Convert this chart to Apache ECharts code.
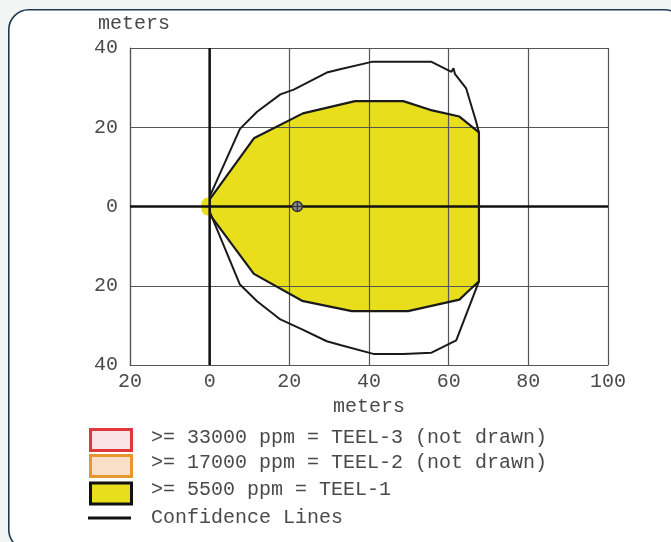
<!DOCTYPE html>
<html>
<head>
<meta charset="utf-8">
<script src="https://cdn.jsdelivr.net/npm/echarts@6/dist/echarts.min.js"></script>
<style>
  html, body { margin: 0; padding: 0; background: #f3f4f4; }
  #chart { width: 671px; height: 542px; }
</style>
</head>
<body>
<div id="chart"></div>
<script>
// Axis ranges and ticks (meters)
const xTicks = [-20, 0, 20, 40, 60, 80, 100];
const yTicks = [-40, -20, 0, 20, 40];

// TEEL-1 footprint outline (downwind x, crosswind y)
const teelUpperX = [0, 11.1, 23.4, 36.5, 48.6, 55.3, 62.7, 67.6];
const teelUpperY = [1.8, 17.2, 23.5, 26.6, 26.6, 24.4, 22.7, 18.7];
const teelLowerX = [0, 11.1, 23.2, 35.7, 49.8, 62.7, 65.3, 67.6];
const teelLowerY = [-2.0, -17.0, -23.8, -26.4, -26.4, -23.5, -21.0, -18.9];

// Small upwind lobe of the footprint around the source
const lobeX = [-0.6, -1.4, -2.0, -2.2, -2.0, -1.4, -0.6];
const lobeY = [2.3, 2.0, 1.2, 0, -1.2, -2.0, -2.3];

// Confidence lines
const confUpperX = [0, 7.6, 11.9, 17.75, 21.1, 29.4, 33.0, 40.7, 55.7, 60.7, 61.2, 61.6, 64.4, 66.9, 67.6];
const confUpperY = [2.5, 19.6, 23.9, 28.3, 29.5, 33.8, 34.7, 36.5, 36.5, 34.0, 34.9, 33.4, 29.8, 21.4, 18.7];
const confLowerX = [0, 7.6, 11.9, 17.75, 23.2, 29.4, 33.0, 41.1, 48.6, 55.7, 61.9, 67.6];
const confLowerY = [-1.3, -19.7, -23.9, -28.5, -31.0, -34.0, -35.0, -37.2, -37.2, -36.9, -33.8, -18.9];

// Release point
const sourcePoint = [22, 0];

// Legend entries
const legendLabels = [
  '>= 33000 ppm = TEEL-3 (not drawn)',
  '>= 17000 ppm = TEEL-2 (not drawn)',
  '>= 5500 ppm = TEEL-1',
  'Confidence Lines'
];

const zip = (xs, ys) => xs.map((x, i) => [x, ys[i]]);
const upper = zip(teelUpperX, teelUpperY);
const lower = zip(teelLowerX, teelLowerY);
const lobe = zip(lobeX, lobeY);
const outline = upper.concat(lower.slice().reverse());
// closed fill: lobe (top to bottom), lower edge out, upper edge back
const fillPoly = lobe.concat(lower, upper.slice().reverse());

const FONT = '"Liberation Mono", "DejaVu Sans Mono", monospace';
const TEXT = '#4a4a4a';
const GRIDC = '#555555';
const YELLOW = '#e8de1c';

const chart = echarts.init(document.getElementById('chart'));

const legendGraphics = [];
const rowY = [428, 454, 481.5, 518];
const boxes = [
  { stroke: '#e0383a', fill: '#f9e3e3' },
  { stroke: '#e8962e', fill: '#f8dfc6' },
  { stroke: '#111111', fill: YELLOW }
];
boxes.forEach((b, i) => {
  legendGraphics.push({
    type: 'rect', left: 89, top: rowY[i],
    shape: { width: 41, height: 21 },
    style: { fill: b.fill, stroke: b.stroke, lineWidth: 3 }
  });
});
legendGraphics.push({
  type: 'rect', left: 88, top: 516.5,
  shape: { width: 43, height: 3 },
  style: { fill: '#111' }
});
const textY = [439, 464, 491, 519];
legendLabels.forEach((t, i) => {
  legendGraphics.push({
    type: 'text', left: 151, top: textY[i] - 11,
    style: { text: t, font: '20px ' + FONT, fill: TEXT }
  });
});

chart.setOption({
  backgroundColor: '#f3f4f4',
  animation: false,
  graphic: [
    {
      type: 'rect', left: 8, top: 9, z: -10,
      shape: { width: 676, height: 540, r: 20 },
      style: { fill: '#ffffff', stroke: '#1e3b52', lineWidth: 1.6 }
    }
  ].concat(legendGraphics),
  grid: { left: 130, top: 48, width: 478, height: 317 },
  xAxis: {
    type: 'value', min: xTicks[0], max: xTicks[xTicks.length - 1], interval: 20,
    z: 3,
    name: 'meters', nameLocation: 'middle', nameGap: 22,
    nameTextStyle: { fontFamily: FONT, fontSize: 20, color: TEXT },
    axisLine: { onZero: false, lineStyle: { color: GRIDC, width: 1.2 } },
    axisTick: { show: false },
    axisLabel: { margin: 7, fontFamily: FONT, fontSize: 20, color: TEXT, formatter: v => String(Math.abs(v)) },
    splitLine: { show: true, lineStyle: { color: GRIDC, width: 1.2 } }
  },
  yAxis: {
    type: 'value', min: yTicks[0], max: yTicks[yTicks.length - 1], interval: 20,
    z: 3,
    name: 'meters', nameLocation: 'end', nameGap: 14,
    nameTextStyle: { fontFamily: FONT, fontSize: 20, color: TEXT, align: 'center', padding: [0, 0, 0, 8] },
    axisLine: { show: true, onZero: false, lineStyle: { color: GRIDC, width: 1.2 } },
    axisTick: { show: false },
    axisLabel: { margin: 12, fontFamily: FONT, fontSize: 20, color: TEXT, formatter: v => String(Math.abs(v)) },
    splitLine: { show: true, lineStyle: { color: GRIDC, width: 1.2 } }
  },
  series: [
    {
      type: 'custom', z: 1, silent: true,
      data: [[0, 0]],
      renderItem: (params, api) => ({
        type: 'polygon',
        shape: { points: fillPoly.map(p => api.coord(p)) },
        style: { fill: YELLOW }
      })
    },
    {
      type: 'line', z: 5, symbol: 'none', silent: true,
      data: [[-20, 0], [100, 0]],
      lineStyle: { color: '#111', width: 2.5 }
    },
    {
      type: 'line', z: 5, symbol: 'none', silent: true,
      data: [[0, -40], [0, 40]],
      lineStyle: { color: '#111', width: 2.5 }
    },
    {
      type: 'line', z: 6, symbol: 'none', silent: true,
      data: outline,
      lineStyle: { color: '#1a1a1a', width: 2.2 }
    },
    {
      type: 'line', z: 6, symbol: 'none', silent: true,
      data: zip(confUpperX, confUpperY),
      lineStyle: { color: '#1a1a1a', width: 2 }
    },
    {
      type: 'line', z: 6, symbol: 'none', silent: true,
      data: zip(confLowerX, confLowerY),
      lineStyle: { color: '#1a1a1a', width: 2 }
    },
    {
      type: 'custom', z: 7, silent: true,
      data: [sourcePoint],
      renderItem: (params, api) => {
        const c = api.coord([api.value(0), api.value(1)]);
        return {
          type: 'group',
          children: [
            { type: 'circle', shape: { cx: c[0], cy: c[1], r: 5 }, style: { fill: '#8a8a8a', stroke: '#333', lineWidth: 1.5 } },
            { type: 'line', shape: { x1: c[0] - 4.5, y1: c[1], x2: c[0] + 4.5, y2: c[1] }, style: { stroke: '#333', lineWidth: 1.2 } },
            { type: 'line', shape: { x1: c[0], y1: c[1] - 4.5, x2: c[0], y2: c[1] + 4.5 }, style: { stroke: '#333', lineWidth: 1.2 } }
          ]
        };
      }
    }
  ]
});
</script>
</body>
</html>
